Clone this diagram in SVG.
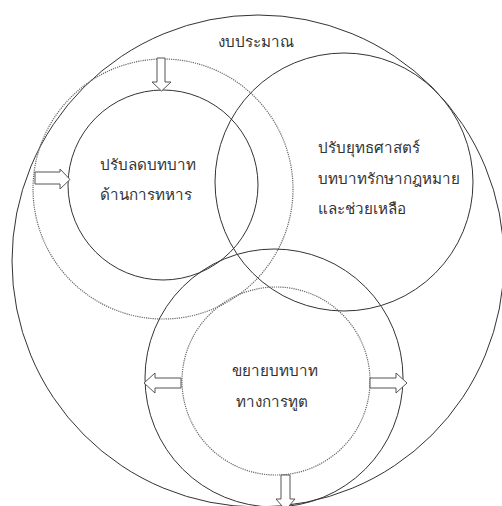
<svg xmlns="http://www.w3.org/2000/svg" width="502" height="506" viewBox="0 0 502 506">
<style>
.c{fill:none;stroke:#333;stroke-width:1}
.d{fill:none;stroke:#666;stroke-width:1.2;stroke-dasharray:1.2 1}
.a{fill:#fff;stroke:#555;stroke-width:1}
text{font-family:"Noto Sans","Liberation Sans",sans-serif;font-size:15.2px;fill:#333}
</style>
<rect width="502" height="506" fill="#fff"/>
<g id="budget">
<circle class="c" cx="258" cy="261" r="246"/>
<text x="256" y="47" text-anchor="middle">งบประมาณ</text>
</g>
<g id="military-outer"><circle class="d" cx="163" cy="189" r="130"/></g>
<g id="strategy">
<circle class="c" cx="344" cy="182" r="129"/>
<text x="318" y="153">ปรับยุทธศาสตร์</text>
<text x="318" y="184">บทบาทรักษากฎหมาย</text>
<text x="318" y="214">และช่วยเหลือ</text>
</g>
<g id="military">
<circle class="c" cx="163" cy="185" r="95"/>
<text x="100" y="170">ปรับลดบทบาท</text>
<text x="100" y="200">ด้านการทหาร</text>
</g>
<g id="diplomacy-outer"><circle class="c" cx="274" cy="378" r="129"/></g>
<g id="diplomacy">
<circle class="d" cx="276" cy="381" r="94"/>
<text x="275" y="376" text-anchor="middle">ขยายบทบาท</text>
<text x="272" y="407" text-anchor="middle">ทางการทูต</text>
</g>
<g id="connectors">
<polygon class="a" points="157,58 165,58 165,82 171,82 161.5,91 152,82 157,82"/>
<polygon class="a" points="35,172 60,172 60,169 70,179.5 60,189 60,184 35,184"/>
<polygon class="a" points="181,378 155,378 155,373 144,383 155,393 155,388 181,388"/>
<polygon class="a" points="370,378 396,378 396,373 407,383 396,393 396,388 370,388"/>
<polygon class="a" points="281,475 290,475 290,499 295,499 285.5,510 276,499 281,499"/>
</g>
</svg>
